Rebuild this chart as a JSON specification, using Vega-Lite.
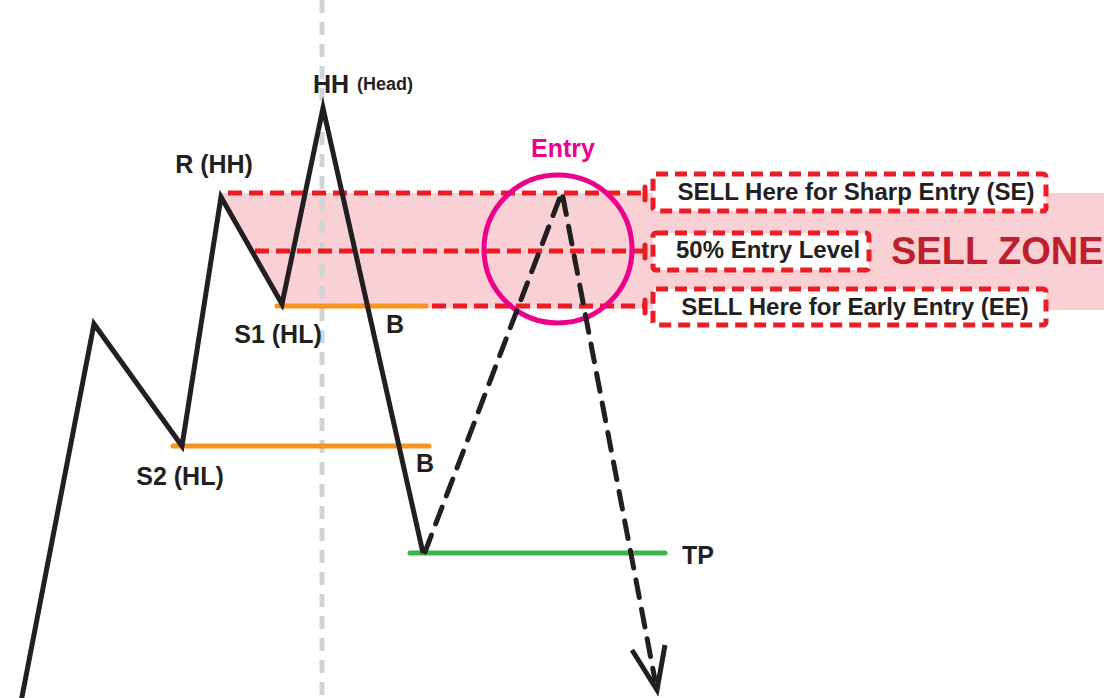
{
  "$schema": "https://vega.github.io/schema/vega-lite/v6.json",
  "width": 1104,
  "height": 698,
  "autosize": "none",
  "padding": 0,
  "background": "white",
  "config": {"view": {"stroke": null}, "font": "Liberation Sans"},
  "datasets": {
    "zone": [
      {"x": 221, "top": 193, "bottom": 193},
      {"x": 283, "top": 193, "bottom": 308},
      {"x": 1104, "top": 193, "bottom": 310}
    ],
    "gray": [{"x": 322, "y": 0, "y2": 698}],
    "redlines": [
      {"x": 228, "x2": 645, "y": 193},
      {"x": 255, "x2": 645, "y": 251},
      {"x": 432, "x2": 645, "y": 306}
    ],
    "ticks": [
      {"x": 645, "y": 187, "y2": 200},
      {"x": 645, "y": 245, "y2": 258},
      {"x": 645, "y": 300, "y2": 313}
    ],
    "boxes": [
      {"x": 653, "x2": 1046, "y": 174, "y2": 211},
      {"x": 653, "x2": 869, "y": 233, "y2": 270},
      {"x": 653, "x2": 1046, "y": 289, "y2": 325}
    ],
    "orange": [
      {"x": 277, "x2": 426, "y": 306},
      {"x": 173, "x2": 429, "y": 446}
    ],
    "green": [{"x": 410, "x2": 665, "y": 553}],
    "path": [
      {"i": 0, "x": 21, "y": 702},
      {"i": 1, "x": 94, "y": 324},
      {"i": 2, "x": 182, "y": 446},
      {"i": 3, "x": 221, "y": 197},
      {"i": 4, "x": 282, "y": 304},
      {"i": 5, "x": 323, "y": 108},
      {"i": 6, "x": 423, "y": 553}
    ],
    "dashed": [
      {"i": 0, "x": 425, "y": 552},
      {"i": 1, "x": 562, "y": 192},
      {"i": 2, "x": 655, "y": 680}
    ],
    "arrow": [
      {"i": 0, "x": 632, "y": 650},
      {"i": 1, "x": 657, "y": 690},
      {"i": 2, "x": 665, "y": 645}
    ],
    "circle": [{"x": 558, "y": 249}],
    "labels": [
      {"x": 214, "y": 173, "t": "R (HH)"},
      {"x": 278, "y": 343, "t": "S1 (HL)"},
      {"x": 180, "y": 485, "t": "S2 (HL)"},
      {"x": 395, "y": 333, "t": "B"},
      {"x": 425, "y": 472, "t": "B"},
      {"x": 698, "y": 564, "t": "TP"},
      {"x": 331, "y": 93, "t": "HH"}
    ],
    "head": [{"x": 357, "y": 90, "t": "(Head)"}],
    "entry": [{"x": 563, "y": 157, "t": "Entry"}],
    "boxtext": [
      {"x": 856, "y": 200, "t": "SELL Here for Sharp Entry (SE)"},
      {"x": 768, "y": 258, "t": "50% Entry Level"},
      {"x": 855, "y": 315, "t": "SELL Here for Early Entry (EE)"}
    ],
    "zonetext": [{"x": 891, "y": 264, "t": "SELL ZONE"}]
  },
  "layer": [
    {
      "data": {"name": "zone"},
      "mark": {"type": "area", "color": "#f9d0d3", "opacity": 1},
      "encoding": {
        "x": {"field": "x", "type": "quantitative", "scale": {"domain": [0, 1104], "nice": false, "zero": false}, "axis": null},
        "y": {"field": "top", "type": "quantitative", "scale": {"domain": [0, 698], "nice": false, "zero": false, "reverse": true}, "axis": null},
        "y2": {"field": "bottom"}
      }
    },
    {
      "data": {"name": "gray"},
      "mark": {"type": "rule", "color": "#d1d3d4", "strokeWidth": 5, "strokeDash": [13, 9]},
      "encoding": {
        "x": {"field": "x", "type": "quantitative", "axis": null},
        "y": {"field": "y", "type": "quantitative", "axis": null},
        "y2": {"field": "y2"}
      }
    },
    {
      "data": {"name": "redlines"},
      "mark": {"type": "rule", "color": "#ed1c24", "strokeWidth": 5, "strokeDash": [14, 7]},
      "encoding": {
        "x": {"field": "x", "type": "quantitative", "axis": null},
        "x2": {"field": "x2"},
        "y": {"field": "y", "type": "quantitative", "axis": null}
      }
    },
    {
      "data": {"name": "ticks"},
      "mark": {"type": "rule", "color": "#ed1c24", "strokeWidth": 5, "strokeCap": "round"},
      "encoding": {
        "x": {"field": "x", "type": "quantitative", "axis": null},
        "y": {"field": "y", "type": "quantitative", "axis": null},
        "y2": {"field": "y2"}
      }
    },
    {
      "data": {"name": "boxes"},
      "mark": {"type": "rect", "fill": "white", "stroke": "#ed1c24", "strokeWidth": 5, "strokeDash": [12, 7], "cornerRadius": 3},
      "encoding": {
        "x": {"field": "x", "type": "quantitative", "axis": null},
        "x2": {"field": "x2"},
        "y": {"field": "y", "type": "quantitative", "axis": null},
        "y2": {"field": "y2"}
      }
    },
    {
      "data": {"name": "orange"},
      "mark": {"type": "rule", "color": "#f7941d", "strokeWidth": 5, "strokeCap": "round"},
      "encoding": {
        "x": {"field": "x", "type": "quantitative", "axis": null},
        "x2": {"field": "x2"},
        "y": {"field": "y", "type": "quantitative", "axis": null}
      }
    },
    {
      "data": {"name": "green"},
      "mark": {"type": "rule", "color": "#39b54a", "strokeWidth": 5, "strokeCap": "round"},
      "encoding": {
        "x": {"field": "x", "type": "quantitative", "axis": null},
        "x2": {"field": "x2"},
        "y": {"field": "y", "type": "quantitative", "axis": null}
      }
    },
    {
      "data": {"name": "circle"},
      "mark": {"type": "point", "shape": "circle", "filled": false, "stroke": "#ec008c", "strokeWidth": 5, "size": 21900, "opacity": 1},
      "encoding": {
        "x": {"field": "x", "type": "quantitative", "axis": null},
        "y": {"field": "y", "type": "quantitative", "axis": null}
      }
    },
    {
      "data": {"name": "path"},
      "mark": {"type": "line", "color": "#231f20", "strokeWidth": 5, "strokeJoin": "miter", "strokeMiterLimit": 10},
      "encoding": {
        "x": {"field": "x", "type": "quantitative", "axis": null},
        "y": {"field": "y", "type": "quantitative", "axis": null},
        "order": {"field": "i"}
      }
    },
    {
      "data": {"name": "dashed"},
      "mark": {"type": "line", "color": "#231f20", "strokeWidth": 5, "strokeDash": [18, 12], "strokeCap": "round", "strokeJoin": "miter", "strokeMiterLimit": 10},
      "encoding": {
        "x": {"field": "x", "type": "quantitative", "axis": null},
        "y": {"field": "y", "type": "quantitative", "axis": null},
        "order": {"field": "i"}
      }
    },
    {
      "data": {"name": "arrow"},
      "mark": {"type": "line", "color": "#231f20", "strokeWidth": 5, "strokeJoin": "miter", "strokeMiterLimit": 10},
      "encoding": {
        "x": {"field": "x", "type": "quantitative", "axis": null},
        "y": {"field": "y", "type": "quantitative", "axis": null},
        "order": {"field": "i"}
      }
    },
    {
      "data": {"name": "labels"},
      "mark": {"type": "text", "font": "Liberation Sans", "fontWeight": "bold", "fontSize": 25, "color": "#231f20", "align": "center", "baseline": "alphabetic"},
      "encoding": {
        "x": {"field": "x", "type": "quantitative", "axis": null},
        "y": {"field": "y", "type": "quantitative", "axis": null},
        "text": {"field": "t"}
      }
    },
    {
      "data": {"name": "head"},
      "mark": {"type": "text", "font": "Liberation Sans", "fontWeight": "bold", "fontSize": 18, "color": "#231f20", "align": "left", "baseline": "alphabetic"},
      "encoding": {
        "x": {"field": "x", "type": "quantitative", "axis": null},
        "y": {"field": "y", "type": "quantitative", "axis": null},
        "text": {"field": "t"}
      }
    },
    {
      "data": {"name": "entry"},
      "mark": {"type": "text", "font": "Liberation Sans", "fontWeight": "bold", "fontSize": 25, "color": "#ec008c", "align": "center", "baseline": "alphabetic"},
      "encoding": {
        "x": {"field": "x", "type": "quantitative", "axis": null},
        "y": {"field": "y", "type": "quantitative", "axis": null},
        "text": {"field": "t"}
      }
    },
    {
      "data": {"name": "boxtext"},
      "mark": {"type": "text", "font": "Liberation Sans", "fontWeight": "bold", "fontSize": 24, "color": "#231f20", "align": "center", "baseline": "alphabetic"},
      "encoding": {
        "x": {"field": "x", "type": "quantitative", "axis": null},
        "y": {"field": "y", "type": "quantitative", "axis": null},
        "text": {"field": "t"}
      }
    },
    {
      "data": {"name": "zonetext"},
      "mark": {"type": "text", "font": "Liberation Sans", "fontWeight": "bold", "fontSize": 38, "color": "#be1e2d", "align": "left", "baseline": "alphabetic"},
      "encoding": {
        "x": {"field": "x", "type": "quantitative", "axis": null},
        "y": {"field": "y", "type": "quantitative", "axis": null},
        "text": {"field": "t"}
      }
    }
  ]
}
